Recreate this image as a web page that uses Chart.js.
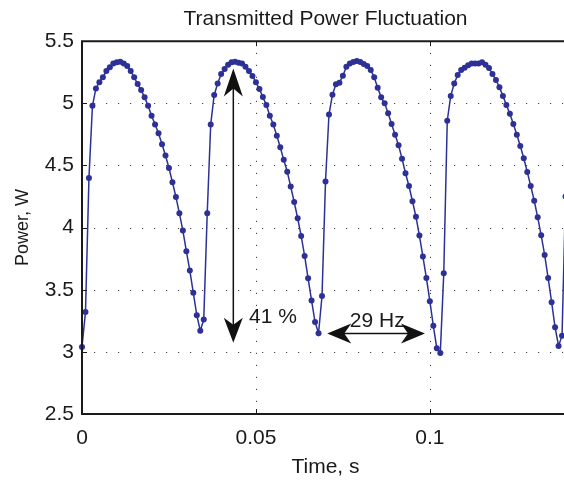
<!DOCTYPE html>
<html>
<head>
<meta charset="utf-8">
<script src="https://cdn.jsdelivr.net/npm/chart.js@4/dist/chart.umd.min.js"></script>
<style>
html,body{margin:0;padding:0;background:#fff;overflow:hidden;width:564px;height:480px;}
#wrap{width:573px;height:480px;}
</style>
</head>
<body>
<div id="wrap"><canvas id="c" width="573" height="480"></canvas></div>
<script>
// ---- data ----
const sampleTimes = [
0.000,0.001,0.002,0.003,0.004,0.005,0.006,0.007,0.008,0.009,
0.010,0.011,0.012,0.013,0.014,0.015,0.016,0.017,0.018,0.019,
0.020,0.021,0.022,0.023,0.024,0.025,0.026,0.027,0.028,0.029,
0.030,0.031,0.032,0.033,0.034,0.035,0.036,0.037,0.038,0.039,
0.040,0.041,0.042,0.043,0.044,0.045,0.046,0.047,0.048,0.049,
0.050,0.051,0.052,0.053,0.054,0.055,0.056,0.057,0.058,0.059,
0.060,0.061,0.062,0.063,0.064,0.065,0.066,0.067,0.068,0.069,
0.070,0.071,0.072,0.073,0.074,0.075,0.076,0.077,0.078,0.079,
0.080,0.081,0.082,0.083,0.084,0.085,0.086,0.087,0.088,0.089,
0.090,0.091,0.092,0.093,0.094,0.095,0.096,0.097,0.098,0.099,
0.100,0.101,0.102,0.103,0.104,0.105,0.106,0.107,0.108,0.109,
0.110,0.111,0.112,0.113,0.114,0.115,0.116,0.117,0.118,0.119,
0.120,0.121,0.122,0.123,0.124,0.125,0.126,0.127,0.128,0.129,
0.130,0.131,0.132,0.133,0.134,0.135,0.136,0.137,0.138,0.139
];
const powerW = [
3.04,3.32,4.40,4.98,5.12,5.17,5.21,5.26,5.29,5.32,
5.33,5.335,5.32,5.30,5.26,5.21,5.155,5.107,5.048,4.98,
4.90,4.83,4.76,4.67,4.58,4.48,4.365,4.247,4.115,3.976,
3.81,3.654,3.475,3.295,3.17,3.26,4.115,4.83,5.067,5.16,
5.236,5.276,5.31,5.33,5.335,5.327,5.32,5.295,5.26,5.22,
5.17,5.115,5.05,4.987,4.90,4.83,4.74,4.646,4.545,4.45,
4.33,4.206,4.075,3.933,3.772,3.592,3.413,3.24,3.15,3.45,
4.37,4.91,5.07,5.153,5.166,5.222,5.295,5.32,5.332,5.34,
5.332,5.316,5.30,5.268,5.209,5.126,5.048,5.0,4.92,4.834,
4.748,4.662,4.555,4.437,4.335,4.212,4.088,3.936,3.767,3.595,
3.408,3.21,3.03,2.99,3.633,4.86,5.06,5.16,5.228,5.268,
5.287,5.306,5.32,5.32,5.32,5.33,5.31,5.284,5.236,5.188,
5.129,5.06,4.987,4.917,4.834,4.748,4.657,4.558,4.448,4.335,
4.217,4.083,3.938,3.78,3.595,3.40,3.198,3.048,3.13,4.25
];
const xTickValues = [0, 0.05, 0.1];
const xTickLabels = ['0', '0.05', '0.1'];
const yTickValues = [2.5, 3, 3.5, 4, 4.5, 5, 5.5];
const yTickLabels = ['2.5', '3', '3.5', '4', '4.5', '5', '5.5'];
const titleText = 'Transmitted Power Fluctuation';
const xLabel = 'Time, s';
const yLabel = 'Power, W';
// annotations (data units)
const ampArrow = {x: 0.0435, yFrom: 3.073, yTo: 5.28, label: '41 %', labelX: 0.048, labelY: 3.231};
const freqArrow = {y: 3.148, xFrom: 0.0705, xTo: 0.0986, label: '29 Hz', labelX: 0.077, labelY: 3.20};

const FONT = '"Liberation Sans", Arial, Helvetica, sans-serif';
const TXT = '#1a1a1a';
const LINE = '#2d3196';

const points = sampleTimes.map((t, i) => ({x: t, y: powerW[i]}));

function head(ctx, tx, ty, dx, dy, L, hw, notch) {
  const bx = tx - dx * L, by = ty - dy * L;
  const nx = -dy, ny = dx;
  ctx.beginPath();
  ctx.moveTo(tx, ty);
  ctx.lineTo(bx + nx * hw, by + ny * hw);
  ctx.lineTo(tx - dx * notch, ty - dy * notch);
  ctx.lineTo(bx - nx * hw, by - ny * hw);
  ctx.closePath();
  ctx.fill();
}

const matlabAxes = {
  id: 'matlabAxes',
  beforeDatasetsDraw(chart) {
    const {ctx, chartArea: a, scales: {x, y}} = chart;
    ctx.save();
    ctx.strokeStyle = '#444';
    ctx.lineWidth = 1;
    ctx.setLineDash([1.2, 10.8]);
    xTickValues.forEach(v => {
      const px = Math.round(x.getPixelForValue(v)) + 0.5;
      ctx.beginPath(); ctx.moveTo(px, a.bottom); ctx.lineTo(px, a.top); ctx.stroke();
    });
    yTickValues.forEach(v => {
      const py = Math.round(y.getPixelForValue(v)) + 0.5;
      ctx.beginPath(); ctx.moveTo(a.left, py); ctx.lineTo(a.right, py); ctx.stroke();
    });
    ctx.restore();
  },
  afterDatasetsDraw(chart) {
    const {ctx, chartArea: a, scales: {x, y}} = chart;
    ctx.save();
    ctx.strokeStyle = '#1a1a1a';
    ctx.lineWidth = 2;
    ctx.beginPath();
    ctx.moveTo(a.left, a.top); ctx.lineTo(a.right, a.top);
    ctx.moveTo(a.left, a.bottom); ctx.lineTo(a.right, a.bottom);
    ctx.moveTo(a.left, a.top - 1); ctx.lineTo(a.left, a.bottom + 1);
    ctx.moveTo(a.right, a.top - 1); ctx.lineTo(a.right, a.bottom + 1);
    ctx.stroke();
    ctx.lineWidth = 1;
    const tl = 5;
    ctx.beginPath();
    xTickValues.forEach(v => {
      const px = Math.round(x.getPixelForValue(v)) + 0.5;
      ctx.moveTo(px, a.bottom); ctx.lineTo(px, a.bottom - tl);
      ctx.moveTo(px, a.top); ctx.lineTo(px, a.top + tl);
    });
    yTickValues.forEach(v => {
      const py = Math.round(y.getPixelForValue(v)) + 0.5;
      ctx.moveTo(a.left, py); ctx.lineTo(a.left + tl, py);
      ctx.moveTo(a.right, py); ctx.lineTo(a.right - tl, py);
    });
    ctx.stroke();

    // amplitude arrow
    ctx.strokeStyle = '#111';
    ctx.fillStyle = '#111';
    ctx.lineWidth = 1.5;
    const ax = x.getPixelForValue(ampArrow.x);
    const ay1 = y.getPixelForValue(ampArrow.yTo);
    const ay2 = y.getPixelForValue(ampArrow.yFrom);
    ctx.beginPath(); ctx.moveTo(ax, ay1 + 10); ctx.lineTo(ax, ay2 - 10); ctx.stroke();
    head(ctx, ax, ay1, 0, -1, 28, 9.5, 20);
    head(ctx, ax, ay2, 0, 1, 25, 9.5, 18);
    // frequency arrow
    const fy = y.getPixelForValue(freqArrow.y);
    const fx1 = x.getPixelForValue(freqArrow.xFrom);
    const fx2 = x.getPixelForValue(freqArrow.xTo);
    ctx.beginPath(); ctx.moveTo(fx1 + 10, fy); ctx.lineTo(fx2 - 10, fy); ctx.stroke();
    head(ctx, fx1, fy, -1, 0, 24, 10, 17);
    head(ctx, fx2, fy, 1, 0, 24, 10, 17);

    ctx.fillStyle = TXT;
    ctx.font = '21px ' + FONT;
    ctx.textAlign = 'left';
    ctx.textBaseline = 'alphabetic';
    ctx.fillText(ampArrow.label, x.getPixelForValue(ampArrow.labelX), y.getPixelForValue(ampArrow.labelY));
    ctx.fillText(freqArrow.label, x.getPixelForValue(freqArrow.labelX), y.getPixelForValue(freqArrow.labelY));
    ctx.restore();
  }
};

new Chart(document.getElementById('c'), {
  type: 'line',
  data: {
    datasets: [{
      data: points,
      borderColor: LINE,
      borderWidth: 1.5,
      backgroundColor: LINE,
      pointRadius: 3,
      pointBorderWidth: 0,
      pointBackgroundColor: LINE,
      tension: 0,
      fill: false,
      clip: false
    }]
  },
  options: {
    responsive: false,
    animation: false,
    devicePixelRatio: 1,
    layout: {padding: {left: 0, right: 1, top: 0, bottom: 0}},
    plugins: {
      legend: {display: false},
      tooltip: {enabled: false},
      title: {
        display: true, text: titleText, fullSize: false,
        color: TXT, font: {family: FONT, size: 21, weight: 'normal', lineHeight: 1.2},
        padding: {top: 7, bottom: 9}
      }
    },
    scales: {
      x: {
        type: 'linear', min: 0, max: 0.14,
        afterBuildTicks: s => { s.ticks = xTickValues.map(v => ({value: v})); },
        afterFit: s => { s.height = 66; },
        grid: {display: false, drawTicks: false},
        border: {display: false},
        ticks: {
          color: TXT, padding: 12, maxRotation: 0, autoSkip: false,
          font: {family: FONT, size: 21},
          callback: (v, i) => xTickLabels[i]
        },
        title: {display: true, text: xLabel, color: TXT, font: {family: FONT, size: 21}, padding: {top: 0, bottom: 0}}
      },
      y: {
        type: 'linear', min: 2.5, max: 5.5,
        afterBuildTicks: s => { s.ticks = yTickValues.map(v => ({value: v})); },
        afterFit: s => { s.width = 82; },
        grid: {display: false, drawTicks: false},
        border: {display: false},
        ticks: {
          color: TXT, padding: 8, autoSkip: false,
          font: {family: FONT, size: 21},
          callback: (v, i) => yTickLabels[i]
        },
        title: {display: true, text: yLabel, color: TXT, font: {family: FONT, size: 18}, padding: {top: 12, bottom: 0}}
      }
    }
  },
  plugins: [matlabAxes]
});
</script>
</body>
</html>
